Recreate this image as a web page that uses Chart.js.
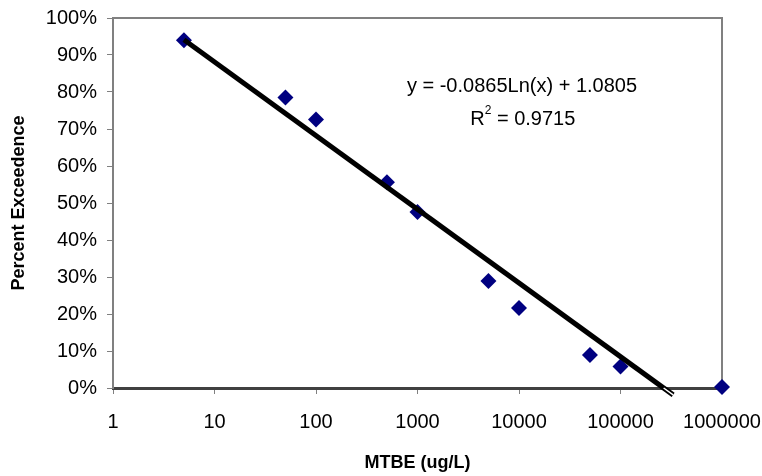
<!DOCTYPE html>
<html>
<head>
<meta charset="utf-8">
<script src="https://cdn.jsdelivr.net/npm/chart.js@4"></script>
<style>
  html, body { margin: 0; padding: 0; background: #ffffff; }
  canvas { display: block; }
</style>
</head>
<body>
<canvas id="c" width="762" height="476"></canvas>
<script>
// ---- data ----
const mtbe = [5, 50, 100, 500, 1000, 5000, 10000, 50000, 100000, 1000000];
const exceedence = [94.0, 78.5, 72.6, 55.6, 47.6, 28.9, 21.6, 8.9, 5.8, 0.3];
const xTickValues = [1, 10, 100, 1000, 10000, 100000, 1000000];
const yTickValues = [0, 10, 20, 30, 40, 50, 60, 70, 80, 90, 100];
const trendSlope = -0.0865;
const trendIntercept = 1.0805;
const rSquared = 0.9715;
const trendRange = [5, 330000];

const FONT = '"Liberation Sans", Arial, sans-serif';
const trendAt = x => 100 * (trendSlope * Math.log(x) + trendIntercept);
const zeroX = Math.exp(-trendIntercept / trendSlope);

const trendData = trendRange.map(x => ({ x: x, y: trendAt(x) }));
const trendBelow = [zeroX, trendRange[1]].map(x => ({ x: x, y: trendAt(x) }));
const points = mtbe.map((x, i) => ({ x: x, y: exceedence[i] }));

const labelAnchors = { eq: [10700, 81.6], r2: [10900, 72.7] };

const framePlugin = {
  id: 'frame',
  beforeDatasetsDraw(chart) {
    const { ctx, chartArea: a } = chart;
    ctx.save();
    ctx.strokeStyle = '#808080';
    ctx.lineWidth = 2;
    ctx.beginPath();
    ctx.moveTo(a.left, a.top);
    ctx.lineTo(a.right, a.top);
    ctx.lineTo(a.right, a.bottom);
    ctx.stroke();
    ctx.restore();
  }
};

const textPlugin = {
  id: 'eqText',
  afterDatasetsDraw(chart) {
    const { ctx, scales } = chart;
    const xs = scales.x, ys = scales.y;
    const big = '20px ' + FONT, small = '12px ' + FONT;
    ctx.save();
    ctx.fillStyle = '#000';
    ctx.textBaseline = 'middle';
    ctx.font = big;
    const eq = 'y = ' + trendSlope.toFixed(4) + 'Ln(x) + ' + trendIntercept.toFixed(4);
    ctx.textAlign = 'center';
    ctx.fillText(eq, xs.getPixelForValue(labelAnchors.eq[0]), ys.getPixelForValue(labelAnchors.eq[1]));
    // R^2
    const cx = xs.getPixelForValue(labelAnchors.r2[0]);
    const cy = ys.getPixelForValue(labelAnchors.r2[1]);
    ctx.textAlign = 'left';
    ctx.font = big;
    const wR = ctx.measureText('R').width;
    const rest = ' = ' + rSquared.toFixed(4);
    const wRest = ctx.measureText(rest).width;
    ctx.font = small;
    const w2 = ctx.measureText('2').width;
    const total = wR + w2 + wRest;
    const x0 = cx - total / 2;
    ctx.font = big;
    ctx.fillText('R', x0, cy);
    ctx.font = small;
    ctx.fillText('2', x0 + wR, cy - 8);
    ctx.font = big;
    ctx.fillText(rest, x0 + wR + w2, cy);
    ctx.restore();
  }
};

new Chart(document.getElementById('c'), {
  type: 'scatter',
  data: {
    datasets: [
      {
        label: 'Trend below zero',
        type: 'line',
        data: trendBelow,
        borderColor: '#ffffff',
        borderWidth: 1.5,
        pointRadius: 0,
        fill: false,
        clip: false,
        order: 0
      },
      {
        label: 'Trend',
        type: 'line',
        data: trendData,
        borderColor: '#000000',
        borderWidth: 5,
        pointRadius: 0,
        fill: false,
        clip: false,
        order: 1
      },
      {
        label: 'MTBE',
        data: points,
        pointStyle: 'rectRot',
        pointRadius: 8,
        pointHoverRadius: 8,
        backgroundColor: '#000080',
        borderColor: '#000080',
        borderWidth: 0,
        clip: false,
        order: 2
      }
    ]
  },
  plugins: [framePlugin, textPlugin],
  options: {
    responsive: false,
    animation: false,
    devicePixelRatio: 1,
    layout: { padding: { left: 0, top: 18, right: 40, bottom: 0 } },
    plugins: { legend: { display: false }, tooltip: { enabled: false } },
    scales: {
      x: {
        type: 'logarithmic',
        min: 1,
        max: 1000000,
        afterBuildTicks: s => { s.ticks = xTickValues.map(v => ({ value: v })); },
        afterFit: s => { s.height = 88; s.paddingLeft = 0; s.paddingRight = 0; },
        ticks: {
          color: '#000',
          font: { family: FONT, size: 20 },
          padding: 16,
          maxRotation: 0,
          autoSkip: false,
          callback: v => String(v)
        },
        grid: { drawOnChartArea: false, drawTicks: true, tickLength: 6, color: '#808080', lineWidth: 1 },
        border: { display: true, color: '#404040', width: 3 },
        title: {
          display: true,
          text: 'MTBE (ug/L)',
          color: '#000',
          font: { family: FONT, size: 18, weight: 'bold' },
          padding: { top: 0, bottom: 2 }
        }
      },
      y: {
        min: 0,
        max: 100,
        afterBuildTicks: s => { s.ticks = yTickValues.map(v => ({ value: v })); },
        afterFit: s => { s.width = 113; s.paddingTop = 0; s.paddingBottom = 0; },
        ticks: {
          color: '#000',
          font: { family: FONT, size: 20 },
          padding: 10,
          callback: v => v + '%'
        },
        grid: { drawOnChartArea: false, drawTicks: true, tickLength: 6, color: '#808080', lineWidth: 1 },
        border: { display: true, color: '#808080', width: 2 },
        title: {
          display: true,
          text: 'Percent Exceedence',
          color: '#000',
          font: { family: FONT, size: 18, weight: 'bold' },
          padding: { top: 8, bottom: 0 }
        }
      }
    }
  }
});
</script>
</body>
</html>
